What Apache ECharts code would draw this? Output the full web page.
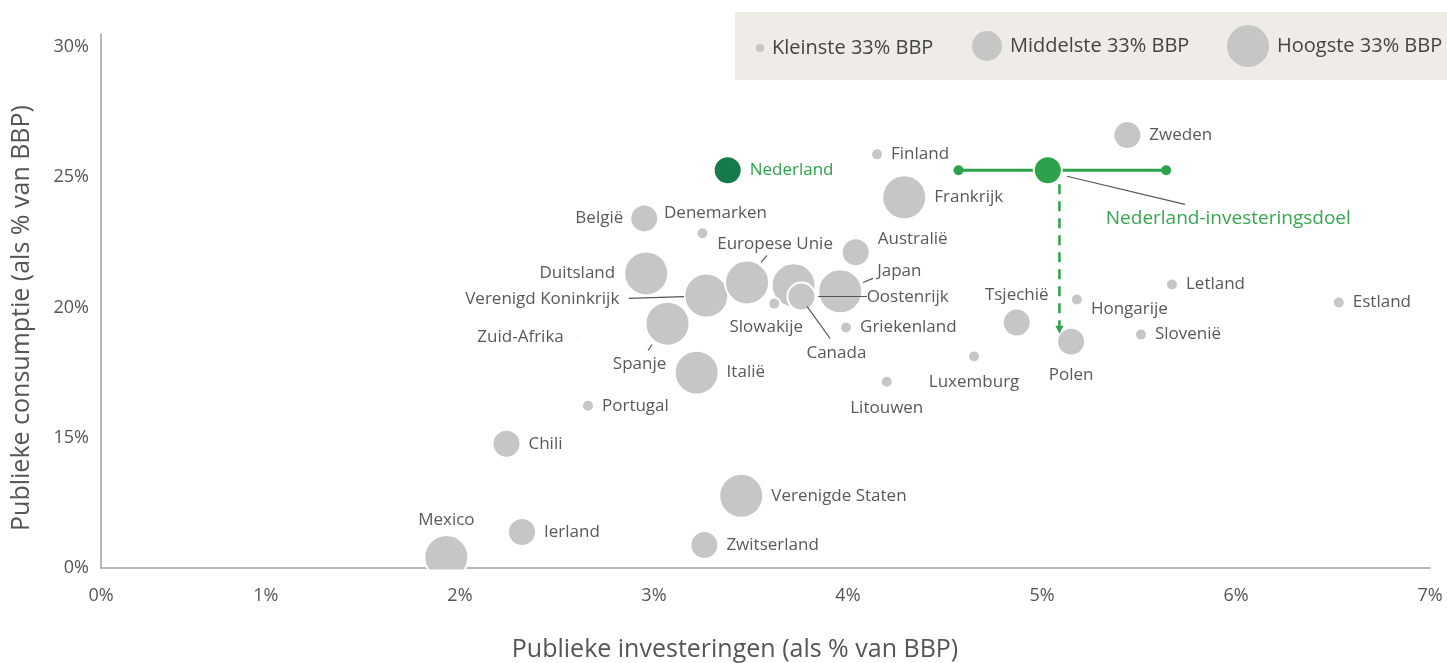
<!DOCTYPE html>
<html>
<head>
<meta charset="utf-8">
<script src="https://cdn.jsdelivr.net/npm/echarts@6/dist/echarts.min.js"></script>
<style>
html, body { margin: 0; padding: 0; background: #fff; }
#chart { width: 1447px; height: 663px; }
</style>
</head>
<body>
<div id="chart"></div>
<script>
// country data: public investment (x, % GDP) and public consumption (y, % GDP)
// y below 15% sits on the compressed part of the axis (the "0%" tick is drawn at 10)
var countries = ['Nederland', 'Finland', 'Frankrijk', 'Zweden', 'België', 'Denemarken', 'Duitsland',
    'Verenigd Koninkrijk', 'Spanje', 'Italië', 'Europese Unie', 'Oostenrijk', 'Canada', 'Japan',
    'Slowakije', 'Australië', 'Griekenland', 'Tsjechië', 'Hongarije', 'Letland', 'Estland',
    'Slovenië', 'Polen', 'Luxemburg', 'Litouwen', 'Portugal', 'Zuid-Afrika', 'Chili',
    'Verenigde Staten', 'Ierland', 'Zwitserland', 'Mexico'];
var invest = [3.38, 4.15, 4.29, 5.44, 2.95, 3.25, 2.96,
    3.27, 3.07, 3.22, 3.48, 3.72, 3.76, 3.96,
    3.62, 4.04, 3.99, 4.87, 5.18, 5.67, 6.53,
    5.51, 5.15, 4.65, 4.20, 2.66, 2.61, 2.24,
    3.45, 2.32, 3.26, 1.93];
var consumption = [25.27, 25.88, 24.23, 26.62, 23.42, 22.85, 21.31,
    20.46, 19.38, 17.50, 20.96, 20.85, 20.42, 20.62,
    20.15, 22.12, 19.23, 19.42, 20.31, 20.88, 20.19,
    18.96, 18.69, 18.12, 17.15, 16.23, 18.88, 14.77,
    12.77, 11.38, 10.88, 10.42];
// 0 = kleinste, 1 = middelste, 2 = hoogste 33% BBP (-1: only a speck)
var gdpGroup = [1, 0, 2, 1, 1, 0, 2,
    2, 2, 2, 2, 2, 1, 2,
    0, 1, 0, 1, 0, 0, 0,
    0, 1, 0, 0, 0, -1, 1,
    2, 1, 1, 2];
var groupNames = ['Kleinste 33% BBP', 'Middelste 33% BBP', 'Hoogste 33% BBP'];

// investment goal for the Netherlands
var nlGoal = [5.03, 25.27];
var nlGoalRange = [4.57, 5.64];
var nlGoalDrop = [5.09, 24.73, 19.15];
var nlGoalName = 'Nederland-investeringsdoel';

var xTicks = [0.15, 1, 2, 3, 4, 5, 6, 7];

// leader lines (data coords) for crowded labels
var leaders = [
    [[2.87, 20.35], [3.155, 20.42]],
    [[2.97, 18.35], [2.99, 18.58]],
    [[3.552, 21.73], [3.583, 22.0]],
    [[4.078, 20.96], [4.129, 21.12]],
    [[3.846, 20.42], [4.098, 20.42]],
    [[3.789, 20.04], [3.908, 18.81]],
    [[5.129, 25.04], [5.737, 23.96]]
];

// label placement: [position, distance, dx, dy]
var labelPlace = {
    'België': ['left', 6, 0, 0],
    'Denemarken': ['top', 5, 13, 0],
    'Duitsland': ['left', 8, 0, 0],
    'Verenigd Koninkrijk': ['left', 64, 0, 4],
    'Zuid-Afrika': ['left', 12, 0, 0],
    'Spanje': ['bottom', 9, -28, 0],
    'Europese Unie': ['top', 7, 28, 0],
    'Oostenrijk': ['right', 50, 0, 12],
    'Japan': ['right', 14, 0, -20],
    'Canada': ['bottom', 33, 35, 0],
    'Slowakije': ['bottom', 8, -8, 0],
    'Australië': ['right', 7, 0, -13],
    'Tsjechië': ['top', 4, 0, 0],
    'Hongarije': ['right', 7, 0, 10],
    'Polen': ['bottom', 10, 0, 0],
    'Luxemburg': ['bottom', 10, 0, 0],
    'Litouwen': ['bottom', 11, 0, 0],
    'Mexico': ['top', 5, 0, 0]
};

var sizes = [12, 28, 44];
var grey = '#c6c6c6';
var txt = '#595959';
var dkGreen = '#177a4b';
var green = '#2ea24a';
var font = 'Open Sans';

function bubbles(g) {
    var out = [];
    for (var i = 0; i < countries.length; i++) {
        var grp = gdpGroup[i] < 0 ? 0 : gdpGroup[i];
        if (grp !== g) continue;
        var p = labelPlace[countries[i]] || ['right', 7, 0, 0];
        var item = {
            name: countries[i],
            value: [invest[i], consumption[i]],
            label: { position: p[0], distance: p[1], offset: [p[2], p[3]] }
        };
        if (gdpGroup[i] < 0) item.symbolSize = 3;
        if (countries[i] === 'Nederland') {
            item.itemStyle = { color: dkGreen };
            item.label.color = green;
        }
        out.push(item);
    }
    return out;
}

var chart = echarts.init(document.getElementById('chart'));

var series = [];
// biggest first so smaller bubbles end up on top
[2, 1, 0].forEach(function (g) {
    series.push({
        name: groupNames[g],
        type: 'scatter',
        symbolSize: sizes[g],
        itemStyle: { color: grey, borderColor: '#fff', borderWidth: 2, opacity: 1 },
        label: { show: true, formatter: '{b}', color: txt, fontFamily: font, fontSize: 17 },
        emphasis: { disabled: true },
        data: bubbles(g),
        z: 3
    });
});

series.push({
    type: 'lines',
    coordinateSystem: 'cartesian2d',
    lineStyle: { color: '#555', width: 1.2, opacity: 1 },
    data: leaders.map(function (l) { return { coords: l }; }),
    silent: true,
    z: 5
});

series.push({
    type: 'line',
    data: [[nlGoalRange[0], nlGoal[1]], [nlGoalRange[1], nlGoal[1]]],
    symbol: 'circle',
    symbolSize: 10,
    itemStyle: { color: green },
    lineStyle: { color: green, width: 3 },
    silent: true,
    z: 4
});

series.push({
    type: 'line',
    data: [
        { value: [nlGoalDrop[0], nlGoalDrop[1]], symbol: 'none' },
        { value: [nlGoalDrop[0], nlGoalDrop[2]], symbol: 'triangle', symbolSize: 8, symbolRotate: 180 }
    ],
    showAllSymbol: true,
    itemStyle: { color: green },
    lineStyle: { color: green, width: 2.5, type: [10, 7] },
    silent: true,
    z: 4
});

series.push({
    type: 'scatter',
    data: [{ name: nlGoalName, value: nlGoal }],
    symbolSize: 28,
    itemStyle: { color: green, borderColor: '#fff', borderWidth: 2, opacity: 1 },
    label: {
        show: true, formatter: '{b}', position: 'right', distance: 43, offset: [0, 48],
        color: '#36a650', fontFamily: font, fontSize: 19
    },
    silent: true,
    z: 6
});

function legendBox(name, left, top, size) {
    return {
        data: [name], left: left, top: top, padding: 0,
        itemWidth: size, itemHeight: size, icon: 'circle',
        itemStyle: { borderWidth: 0 },
        selectedMode: false,
        textStyle: { color: '#444', fontSize: 20, fontFamily: font, padding: [0, 0, 0, 3] }
    };
}

var option = {
    animation: false,
    textStyle: { fontFamily: font },
    grid: { left: 101, right: 17, top: 34, bottom: 95 },
    xAxis: {
        type: 'value',
        min: 0.15,
        max: 7,
        splitLine: { show: false },
        axisTick: { show: false },
        axisLine: { lineStyle: { color: '#a0a0a0', width: 1.5 } },
        axisLabel: {
            customValues: xTicks,
            color: '#555', fontSize: 18, margin: 19,
            formatter: function (v) { return (v < 0.5 ? 0 : v) + '%'; }
        }
    },
    yAxis: {
        type: 'value',
        min: 10,
        max: 30.5,
        interval: 5,
        splitLine: { show: false },
        axisTick: { show: false },
        axisLine: { show: true, lineStyle: { color: '#a0a0a0', width: 1.5 } },
        axisLabel: {
            color: '#555', fontSize: 18, margin: 12,
            formatter: function (v) {
                if (v % 5 !== 0) return '';
                return (v === 10 ? 0 : v) + '%';
            }
        }
    },
    legend: [
        legendBox(groupNames[0], 756, 38, 8),
        legendBox(groupNames[1], 972, 31, 30),
        legendBox(groupNames[2], 1227, 25, 42)
    ],
    graphic: [
        { type: 'rect', shape: { x: 735, y: 12, width: 712, height: 68 }, style: { fill: '#efece7' }, z: -1 },
        { type: 'rect', shape: { x: 101, y: 569.5, width: 1340, height: 14 }, style: { fill: '#fff' }, z: 100 },
        { type: 'text', x: 22, y: 318, rotation: Math.PI / 2,
          style: { text: 'Publieke consumptie (als % van BBP)', fill: '#555', font: '25px "Open Sans"',
                   textAlign: 'center', textVerticalAlign: 'middle' } },
        { type: 'text', x: 735, y: 650,
          style: { text: 'Publieke investeringen (als % van BBP)', fill: '#555', font: '25px "Open Sans"',
                   textAlign: 'center', textVerticalAlign: 'middle' } }
    ],
    series: series
};

chart.setOption(option);
</script>
</body>
</html>
